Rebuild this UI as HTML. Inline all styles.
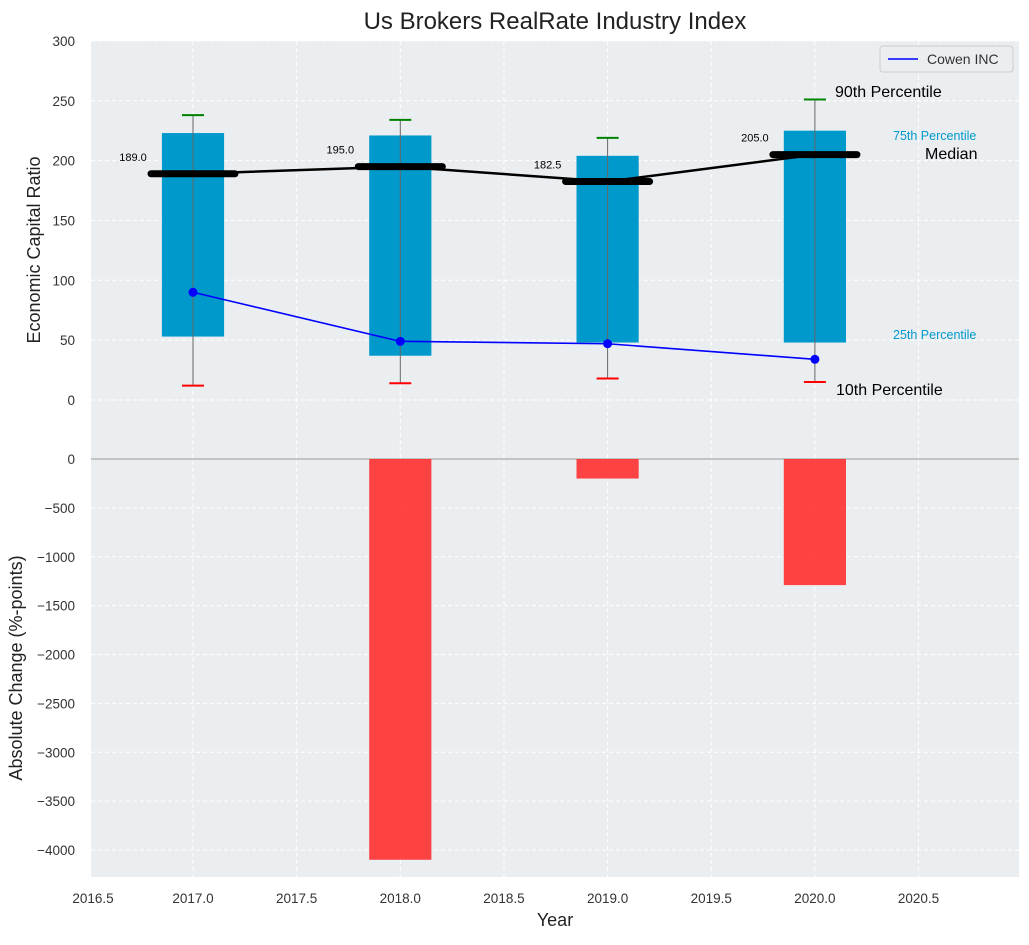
<!DOCTYPE html>
<html><head><meta charset="utf-8"><style>
body{margin:0;background:#fff;font-family:"Liberation Sans","DejaVu Sans",sans-serif}
</style></head><body>
<svg id="c" width="1029" height="940" xmlns="http://www.w3.org/2000/svg" font-family="Liberation Sans, DejaVu Sans, sans-serif"></svg>
<script>
const years=[2017,2018,2019,2020];
const p10=[12,14,18,15];
const p25=[53,37,48,48];
const medians=[189,195,182.5,205];
const p75=[223,221,204,225];
const p90=[238,234,219,251];
const cowen=[90,49,47,34];
const changes=[0,-4100,-200,-1290];
const xTicks=[2016.5,2017,2017.5,2018,2018.5,2019,2019.5,2020,2020.5];
const yTopTicks=[0,50,100,150,200,250,300];
const yBotTicks=[0,-500,-1000,-1500,-2000,-2500,-3000,-3500,-4000];

const S=document.getElementById('c');const NS='http://www.w3.org/2000/svg';
function mk(t,a,p){const e=document.createElementNS(NS,t);for(const k in a)e.setAttribute(k,a[k]);(p||S).appendChild(e);return e;}
const L=91,R=1019;
const X=v=>193+(v-2017)*207.3;
const YT=v=>400-v*1.197;
const Yb=v=>459+(-v)*0.09775;
let e=mk('rect',{x:L,y:41,width:R-L,height:418,fill:'#eaeef0'});

e=mk('rect',{x:L,y:459,width:R-L,height:418,fill:'#eaeef0'});

xTicks.forEach(t=>{const x=X(t);
 if(x>=L)mk('line',{x1:x,x2:x,y1:41,y2:877,stroke:'#fff','stroke-dasharray':'4,3','stroke-width':1});
 e=mk('text',{x:Math.max(x,L+2),y:903,'text-anchor':'middle','font-size':13.5,fill:'#333'});e.textContent=t.toFixed(1);
 });
yTopTicks.forEach(t=>{const y=YT(t);
 mk('line',{x1:L,x2:R,y1:y,y2:y,stroke:'#fff','stroke-dasharray':'4,3'});
 e=mk('text',{x:75,y:y+5,'text-anchor':'end','font-size':13.5,fill:'#333'});e.textContent=t;
 });
yBotTicks.forEach(t=>{const y=Yb(t);
 if(t!==0)mk('line',{x1:L,x2:R,y1:y,y2:y,stroke:'#fff','stroke-dasharray':'4,3'});
 e=mk('text',{x:75,y:y+5,'text-anchor':'end','font-size':13.5,fill:'#333'});e.textContent=t===0?'0':'\u2212'+(-t);
 });
mk('line',{x1:L,x2:R,y1:459,y2:459,stroke:'#aaa','stroke-width':1.2});
const hw=0.15*207.3;
years.forEach((yr,i)=>{const x=X(yr);
 e=mk('rect',{x:x-hw,y:YT(p75[i]),width:2*hw,height:YT(p25[i])-YT(p75[i]),fill:'#0099cc'});
 
 e=mk('line',{x1:x,x2:x,y1:YT(p90[i]),y2:YT(p10[i]),stroke:'#666','stroke-width':1});
 
 mk('line',{x1:x-11,x2:x+11,y1:YT(p90[i]),y2:YT(p90[i]),stroke:'green','stroke-width':2});
 mk('line',{x1:x-11,x2:x+11,y1:YT(p10[i]),y2:YT(p10[i]),stroke:'red','stroke-width':2});
 if(changes[i]!==0){e=mk('rect',{x:x-hw,y:459,width:2*hw,height:Yb(changes[i])-459,fill:'#ff2a2a','fill-opacity':0.88});
 }
});
e=mk('polyline',{points:years.map((y,i)=>X(y)+','+YT(medians[i])).join(' '),fill:'none',stroke:'#000','stroke-width':2.5});

years.forEach((yr,i)=>{const x=X(yr),y=YT(medians[i]);
 e=mk('line',{x1:x-42,x2:x+42,y1:y,y2:y,stroke:'#000','stroke-width':7,'stroke-linecap':'round'});
 
 e=mk('text',{x:x-60,y:y-13,'text-anchor':'middle','font-size':11,fill:'#000'});e.textContent=medians[i].toFixed(1);
 });
e=mk('polyline',{points:years.map((y,i)=>X(y)+','+YT(cowen[i])).join(' '),fill:'none',stroke:'blue','stroke-width':1.6});

years.forEach((yr,i)=>{e=mk('circle',{cx:X(yr),cy:YT(cowen[i]),r:4.5,fill:'blue'});
 });
function tx(x,y,s,sz,c,n){e=mk('text',{x:x,y:y,'font-size':sz,fill:c});e.textContent=s;}
tx(835,97,'90th Percentile',16,'#000','p90-annotation');
tx(893,140,'75th Percentile',12.5,'#0099cc','p75-annotation');
tx(925,159,'Median',16,'#000','median-annotation');
tx(893,339,'25th Percentile',12.5,'#0099cc','p25-annotation');
tx(836,395,'10th Percentile',16,'#000','p10-annotation');
e=mk('rect',{x:880,y:46,width:133,height:26,rx:3,fill:'#eaeef0',stroke:'#ccc'});

mk('line',{x1:888,x2:918,y1:59,y2:59,stroke:'blue','stroke-width':1.6});
tx(927,64,'Cowen INC',14,'#333','legend-entry-cowen');
e=mk('text',{x:555,y:29,'text-anchor':'middle','font-size':24,fill:'#222'});e.textContent='Us Brokers RealRate Industry Index';

e=mk('text',{x:555,y:926,'text-anchor':'middle','font-size':18,fill:'#222'});e.textContent='Year';

e=mk('text',{x:0,y:0,'text-anchor':'middle','font-size':18,fill:'#222',transform:'translate(40,250) rotate(-90)'});e.textContent='Economic Capital Ratio';

e=mk('text',{x:0,y:0,'text-anchor':'middle','font-size':18,fill:'#222',transform:'translate(22,668) rotate(-90)'});e.textContent='Absolute Change (%-points)';

</script>
</body></html>
